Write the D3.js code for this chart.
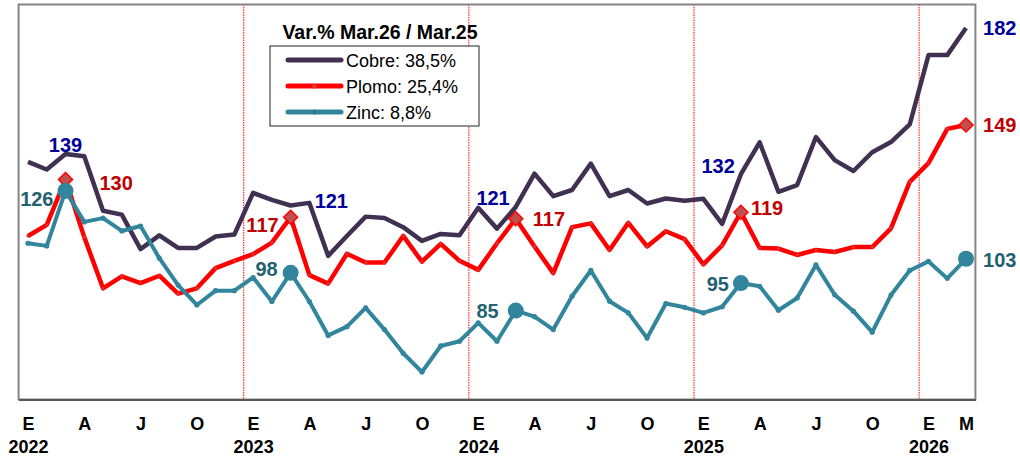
<!doctype html>
<html lang="es">
<head>
<meta charset="utf-8">
<title>Cobre, Plomo, Zinc</title>
<style>
  body { margin: 0; background: #fff; }
  svg { display: block; font-family: "Liberation Sans", Arial, sans-serif; }
  .tick text { font-weight: bold; fill: #000; }
  .lbl { font-weight: bold; font-size: 20px; }
</style>
</head>
<body>
<div id="chart"></div>
<script src="https://cdn.jsdelivr.net/npm/d3@7"></script>
<script>
// monthly index, Jan 2022 .. Mar 2026 (51 months)
var copper = [136.2,133.6,138.9,138.1,119.5,118.2,106.4,111.1,106.8,106.8,110.7,111.4,
  125.6,123.2,121.3,122.2,104.1,110.9,117.5,117.0,113.9,109.2,111.6,111.1,
  120.5,113.4,120.8,132.2,124.5,126.6,135.6,124.5,126.6,122.0,123.7,122.9,
  123.6,115.0,132.0,142.9,126.0,128.3,144.7,136.8,133.1,139.5,143.0,149.0,
  172.7,172.7,182.0];
var lead = [110.9,114.7,130.2,110.5,93.0,97.1,94.8,97.3,91.2,93.0,99.9,102.4,
  104.7,108.6,117.3,97.5,94.6,104.8,101.8,101.8,110.9,102.1,108.2,102.4,
  99.3,108.4,116.8,107.3,98.2,113.9,115.2,106.1,115.4,107.3,112.5,109.8,
  101.2,107.7,119.0,106.8,106.6,104.4,106.1,105.4,107.1,107.1,113.5,129.4,
  135.8,147.5,148.8];
var zinc = [108.4,107.5,126.3,115.7,117.0,112.6,114.3,103.3,94.1,87.3,92.2,92.2,
  96.7,88.5,98.3,88.5,76.9,79.9,86.3,78.9,70.8,64.4,73.3,74.9,
  81.2,74.9,85.4,83.3,78.9,90.3,99.1,88.6,84.6,76.0,87.8,86.5,
  84.6,86.7,94.8,93.7,85.5,89.7,101.0,90.8,85.2,78.0,90.7,99.1,
  102.2,96.4,103.1];

var tickIdx = [0,3,6,9,12,15,18,21,24,27,30,33,36,39,42,45,48,50];
var tickLabels = ["E","A","J","O","E","A","J","O","E","A","J","O","E","A","J","O","E","M"];
var yearIdx = [0,12,24,36,48];
var yearLabels = ["2022","2023","2024","2025","2026"];
var markIdx = [2,14,26,38,50];   // March of each year

var legendTitle = "Var.% Mar.26 / Mar.25";
var seriesNames = ["Cobre: 38,5%","Plomo: 25,4%","Zinc: 8,8%"];

(function(){
  var width = 1020, height = 462;
  var left = 18.6, right = 975.4, top = 4.5, bottom = 399.5;

  var x = d3.scaleLinear().domain([-0.5, 50.5]).range([left, right]);
  var y = d3.scaleLinear().domain([55, 190]).range([bottom, top]);

  var svg = d3.select("#chart").append("svg")
      .attr("width", width).attr("height", height);

  // year separators (dotted red)
  svg.selectAll(".sep").data(yearIdx.slice(1)).enter().append("line")
      .attr("x1", function(d){ return x(d - 0.5); })
      .attr("x2", function(d){ return x(d - 0.5); })
      .attr("y1", top).attr("y2", bottom)
      .attr("stroke", "#ff0000").attr("stroke-width", 1)
      .attr("stroke-dasharray", "1.5,1");

  // frame
  svg.append("rect")
      .attr("x", left).attr("y", top)
      .attr("width", right - left).attr("height", bottom - top)
      .attr("fill", "none").attr("stroke", "#868686").attr("stroke-width", 2);

  // x axis : months then years
  var ax = svg.append("g").attr("transform", "translate(0," + bottom + ")")
      .call(d3.axisBottom(x).tickValues(tickIdx)
        .tickFormat(function(d, i){ return tickLabels[i]; })
        .tickSize(0).tickPadding(18));
  ax.select(".domain").attr("stroke", "#555").attr("stroke-width", 2);
  ax.selectAll("text").style("font-size", "18px")
      .style("font-family", "'Liberation Sans', Arial, sans-serif");

  var ay = svg.append("g").attr("transform", "translate(0," + bottom + ")")
      .call(d3.axisBottom(x).tickValues(yearIdx)
        .tickFormat(function(d, i){ return yearLabels[i]; })
        .tickSize(0).tickPadding(41));
  ay.select(".domain").remove();
  ay.selectAll("text").style("font-size", "18px")
      .style("font-family", "'Liberation Sans', Arial, sans-serif");

  var line = d3.line()
      .x(function(d, i){ return x(i); })
      .y(function(d){ return y(d); });

  // copper
  svg.append("path").datum(copper)
      .attr("d", line).attr("fill", "none")
      .attr("stroke", "#403152").attr("stroke-width", 4.5)
      .attr("stroke-linejoin", "round");

  // lead
  svg.append("path").datum(lead)
      .attr("d", line).attr("fill", "none")
      .attr("stroke", "#ff0000").attr("stroke-width", 4.5)
      .attr("stroke-linejoin", "round");
  svg.selectAll(".pdot").data(lead).enter().append("circle")
      .attr("cx", function(d, i){ return x(i); })
      .attr("cy", function(d){ return y(d); })
      .attr("r", 1.6).attr("fill", "#e03030");
  svg.selectAll(".pmark").data(markIdx).enter().append("path")
      .attr("transform", function(i){ return "translate(" + x(i) + "," + y(lead[i]) + ")"; })
      .attr("d", "M0,-7L7,0L0,7L-7,0Z")
      .attr("fill", "#c0504d").attr("stroke", "#ff0000").attr("stroke-width", 1.5);

  // zinc
  svg.append("path").datum(zinc)
      .attr("d", line).attr("fill", "none")
      .attr("stroke", "#31859c").attr("stroke-width", 4)
      .attr("stroke-linejoin", "round");
  svg.selectAll(".zdot").data(zinc).enter().append("circle")
      .attr("cx", function(d, i){ return x(i); })
      .attr("cy", function(d){ return y(d); })
      .attr("r", 2.6).attr("fill", "#31859c");
  svg.selectAll(".zmark").data(markIdx).enter().append("circle")
      .attr("cx", function(i){ return x(i); })
      .attr("cy", function(i){ return y(zinc[i]); })
      .attr("r", 8).attr("fill", "#31859c");

  // value labels at March points
  var place = {
    copper: [[0,-2,"middle"],[24,2,"start"],[-6,-2,"end"],[-6,-1,"end"],[17,7,"start"]],
    lead:   [[34,11,"start"],[-12,15,"end"],[17,7,"start"],[10,3,"start"],[17,7,"start"]],
    zinc:   [[-12,15,"end"],[-13,3,"end"],[-17,7,"end"],[-12,8,"end"],[17,8,"start"]]
  };
  function labels(vals, key, color) {
    svg.selectAll(".l" + key).data(markIdx).enter().append("text")
        .attr("class", "lbl")
        .attr("x", function(i, k){ return x(i) + place[key][k][0]; })
        .attr("y", function(i, k){ return y(vals[i]) + place[key][k][1]; })
        .attr("text-anchor", function(i, k){ return place[key][k][2]; })
        .attr("fill", color)
        .text(function(i){ return Math.round(vals[i]); });
  }
  labels(copper, "copper", "#000099");
  labels(lead, "lead", "#c00000");
  labels(zinc, "zinc", "#22616f");

  // legend
  var lg = svg.append("g");
  lg.append("text").attr("x", 380).attr("y", 39)
      .attr("text-anchor", "middle")
      .style("font-weight", "bold").style("font-size", "19.5px")
      .text(legendTitle);
  lg.append("rect").attr("x", 270).attr("y", 46)
      .attr("width", 209).attr("height", 80)
      .attr("fill", "#fff").attr("stroke", "#222").attr("stroke-width", 1);
  var cols = ["#403152", "#ff0000", "#31859c"];
  var rows = lg.selectAll(".row").data(seriesNames).enter().append("g")
      .attr("transform", function(d, i){ return "translate(0," + (60 + i * 26) + ")"; });
  rows.append("line").attr("x1", 288).attr("x2", 341)
      .attr("stroke", function(d, i){ return cols[i]; })
      .attr("stroke-width", 5).attr("stroke-linecap", "round");
  rows.filter(function(d, i){ return i > 0; }).append("circle")
      .attr("cx", 314.5).attr("r", 2.5)
      .attr("fill", function(d, i){ return i === 0 ? "#e03030" : "#2a7a90"; });
  rows.append("text").attr("x", 346).attr("y", 6.5)
      .style("font-size", "18px").attr("fill", "#000")
      .text(function(d){ return d; });
})();
</script>
</body>
</html>
